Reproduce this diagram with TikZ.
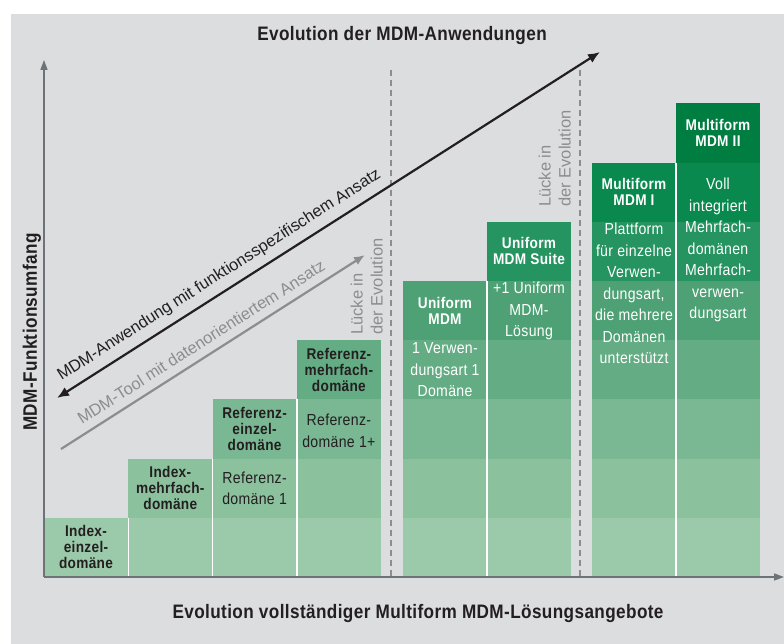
\documentclass[tikz,border=0pt]{standalone}
\usepackage{fontspec}
\setmainfont{Liberation Sans}
\newfontfamily\narrowfont{Liberation Sans}[FakeStretch=0.88,LetterSpace=2.0]
\usetikzlibrary{arrows.meta}

\definecolor{panel}{HTML}{DCDDDF}
\definecolor{axisgray}{HTML}{6E7377}
\definecolor{softgray}{HTML}{8B8D90}
\definecolor{ink}{HTML}{231F20}
% one shade per level, lightest at the bottom
\definecolor{band1}{HTML}{9BCAAA}
\definecolor{band2}{HTML}{8CC19E}
\definecolor{band3}{HTML}{7AB894}
\definecolor{band4}{HTML}{64AC84}
\definecolor{band5}{HTML}{4DA174}
\definecolor{band6}{HTML}{259460}
\definecolor{band7}{HTML}{0A894F}
\definecolor{band8}{HTML}{007D40}

\tikzset{
  axis/.style={
    draw=axisgray,
    line width=1.6pt,
    -{Triangle[length=10pt,width=7pt]}
  },
  gapline/.style={
    draw=softgray,
    line width=1.1pt,
    dash pattern=on 6pt off 4pt
  },
  header/.style={
    font=\narrowfont\bfseries\fontsize{15.5}{16}\selectfont,
    align=center,
    inner sep=0
  },
  body/.style={
    font=\narrowfont\fontsize{16}{21.5}\selectfont,
    align=center,
    inner sep=0
  },
  heading/.style={
    font=\narrowfont\bfseries\fontsize{19.5}{22}\selectfont,
    text=ink,
    inner sep=0
  },
  gaplabel/.style={
    font=\fontsize{16.5}{20}\selectfont,
    text=softgray,
    align=left,
    rotate=90,
    anchor=south west,
    inner sep=0
  },
  slopelabel/.style={
    font=\fontsize{16.5}{20}\selectfont,
    sloped,
    anchor=base,
    inner sep=0
  }
}

\begin{document}
\begin{tikzpicture}[x=1pt,y=-1pt]
  \useasboundingbox (0,0) rectangle (784,644);
  \fill[white] (0,0) rectangle (784,644);
  \fill[panel] (11,14) rectangle (784,644);

  % stacked columns
  \foreach \xl/\n in {44/1,128.3/2,212.6/3,296.9/4,403/5,487/6,592/7,676/8}{
    \foreach \k in {1,...,\n}{
      \fill[fill=band\k] (\xl,{577-59.2*\k}) rectangle ++(84,59.2);
    }
  }
  \foreach \xs/\n in {128.3/1,212.6/2,296.9/3,487/5,676/7}
    \draw[white,line width=1.2pt] (\xs,577) -- (\xs,{577-59.2*\n});

  % column texts
  \node[header,text=ink] (h1) at (86,547.4) {Index-\\einzel-\\domäne};
  \node[header,text=ink] (h2) at (170.3,488.2) {Index-\\mehrfach-\\domäne};
  \node[header,text=ink] (h3) at (254.6,429) {Referenz-\\einzel-\\domäne};
  \node[header,text=ink] (h4) at (338.9,369.8) {Referenz-\\mehrfach-\\domäne};
  \node[header,text=white] (h5) at (445,310.6) {Uniform\\MDM};
  \node[header,text=white] (h6) at (529,251.4) {Uniform\\MDM Suite};
  \node[header,text=white] (h7) at (634,192.2) {Multiform\\MDM I};
  \node[header,text=white] (h8) at (718,133) {Multiform\\MDM II};

  \node[body,text=ink] (b3) at (254.6,488.2) {Referenz-\\domäne 1};
  \node[body,text=ink] (b4) at (338.9,431) {Referenz-\\domäne 1+};
  \node[body,text=white] (b5) at (445,370) {1 Verwen-\\dungsart 1\\Domäne};
  \node[body,text=white] (b6) at (529,311) {+1 Uniform\\MDM-\\Lösung};
  \node[body,text=white] (b7) at (634,293.5) {Plattform\\für einzelne\\Verwen-\\dungsart,\\die mehrere\\Domänen\\unterstützt};
  \node[body,text=white] (b8) at (718,250) {Voll\\integriert\\Mehrfach-\\domänen\\Mehrfach-\\verwen-\\dungsart};

  % gaps between the generations
  \coordinate (g1top) at (391,70);
  \coordinate (g1bot) at (391,577);
  \coordinate (g2top) at (580,70);
  \coordinate (g2bot) at (580,577);
  \draw[gapline] (g1top) -- (g1bot);
  \draw[gapline] (g2top) -- (g2bot);
  \node[gaplabel] (gl1) at (383,335) {Lücke in\\der Evolution};
  \node[gaplabel] (gl2) at (571,207) {Lücke in\\der Evolution};

  % axes
  \coordinate (o) at (44,577);
  \coordinate (ytip) at (44,60);
  \coordinate (xtip) at (784,577);
  \draw[axis] (o) -- (ytip);
  \draw[axis] (o) -- (xtip);

  % the two trend arrows
  \coordinate (fa0) at (57,398);
  \coordinate (fa1) at (600,52);
  \coordinate (da0) at (61,449);
  \coordinate (da1) at (365,255);
  \draw[ink,line width=2.2pt,{Latex[length=12pt,width=10pt]}-{Latex[length=12pt,width=10pt]}]
    (fa0) -- node[slopelabel,text=ink,pos=.315,yshift=12pt] (fl) {MDM-Anwendung mit funktionsspezifischem Ansatz} (fa1);
  \draw[softgray,line width=2.2pt,-{Latex[length=11pt,width=9pt]}]
    (da0) -- node[slopelabel,text=softgray,pos=.487,yshift=9pt] (dl) {MDM-Tool mit datenorientiertem Ansatz} (da1);

  % titles
  \node[heading] (top) at (402,36) {Evolution der MDM-Anwendungen};
  \node[heading] (bottom) at (418,613) {Evolution vollständiger Multiform MDM-Lösungsangebote};
  \node[heading,rotate=90] (side) at (32,332) {MDM-Funktionsumfang};
\end{tikzpicture}
\end{document}
